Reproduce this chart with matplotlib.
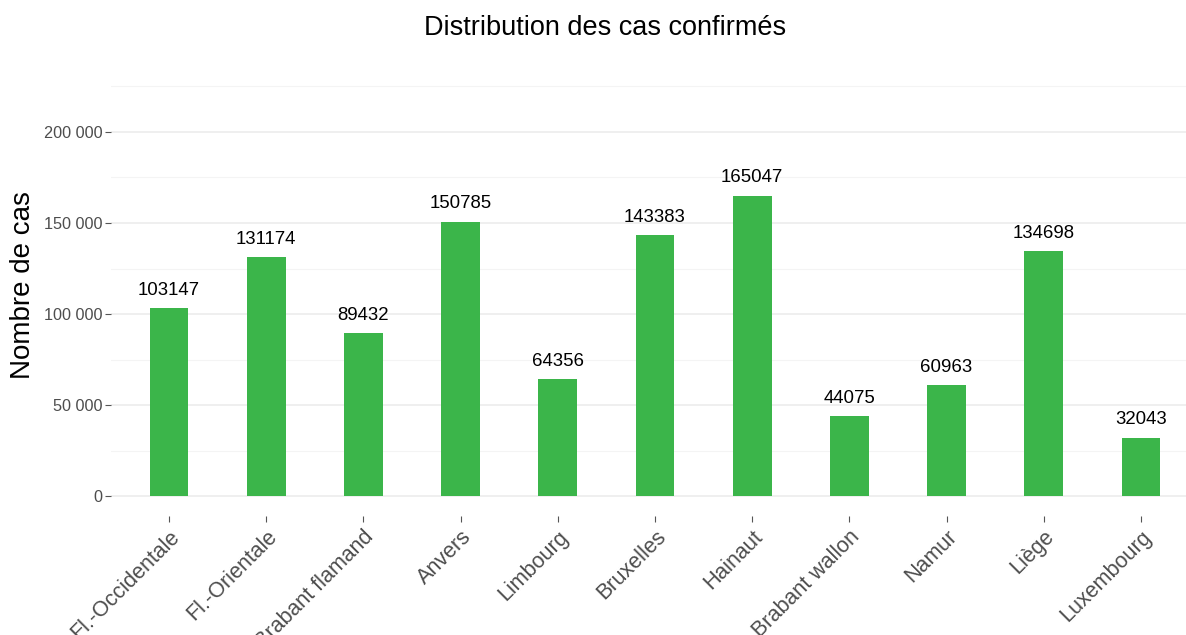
import matplotlib
matplotlib.use("Agg")
import matplotlib.pyplot as plt
from matplotlib.ticker import FuncFormatter, MultipleLocator

provinces = ["Fl.-Occidentale", "Fl.-Orientale", "Brabant flamand", "Anvers", "Limbourg",
             "Bruxelles", "Hainaut", "Brabant wallon", "Namur", "Liège", "Luxembourg"]
cases = [103147, 131174, 89432, 150785, 64356, 143383, 165047, 44075, 60963, 134698, 32043]

plt.rcParams['font.family'] = ['Liberation Sans', 'DejaVu Sans']

W, H = 1186, 635
fig = plt.figure(figsize=(W / 100, H / 100), dpi=100)

px_unit = (496 - 132) / 200000
left_px = 110.7
width_px = 11.2 * 97.2
bottom_px = 496 + 11250 * px_unit
top_px = 496 - 236250 * px_unit
ax = fig.add_axes([left_px / W, 1 - bottom_px / H, width_px / W, (bottom_px - top_px) / H])

x = list(range(len(provinces)))
bars = ax.bar(x, cases, width=0.4, color="#3BB54A", zorder=3)
for xi, v in zip(x, cases):
    ax.annotate(str(v), (xi, v), xytext=(0, 9.5), textcoords="offset points",
                ha="center", va="baseline", fontsize=13.4, color="black", zorder=4)

ax.set_xlim(-0.6, len(provinces) - 0.4)
ax.set_ylim(-11250, 236250)
ax.yaxis.set_major_locator(MultipleLocator(50000))
ax.yaxis.set_minor_locator(MultipleLocator(25000))
ax.yaxis.set_major_formatter(FuncFormatter(lambda v, p: f"{int(v):,}".replace(",", " ")))
ax.set_xticks(x)
ax.set_xticklabels(provinces, rotation=45, ha="right", va="top", rotation_mode="anchor")

ax.grid(True, which="major", axis="y", color="#EBEBEB", linewidth=1.1, zorder=0)
ax.grid(True, which="minor", axis="y", color="#F4F4F4", linewidth=0.8, zorder=0)
ax.set_axisbelow(True)
for s in ax.spines.values():
    s.set_visible(False)
ax.tick_params(axis="y", which="major", length=4, width=0.8, color="#555555",
               labelsize=11.7, labelcolor="#4D4D4D", pad=2)
ax.tick_params(axis="y", which="minor", length=0)
ax.tick_params(axis="x", which="major", length=4, width=0.8, color="#555555",
               labelsize=15.5, labelcolor="#4D4D4D", pad=3)

fig.text(605 / W, 1 - 35 / H, "Distribution des cas confirmés", ha="center", va="baseline",
         fontsize=19.5, color="black")
fig.text(23 / W, 1 - 285 / H, "Nombre de cas", rotation=90, ha="center", va="center",
         fontsize=20, color="black")

fig.savefig("out.png", dpi=100)
